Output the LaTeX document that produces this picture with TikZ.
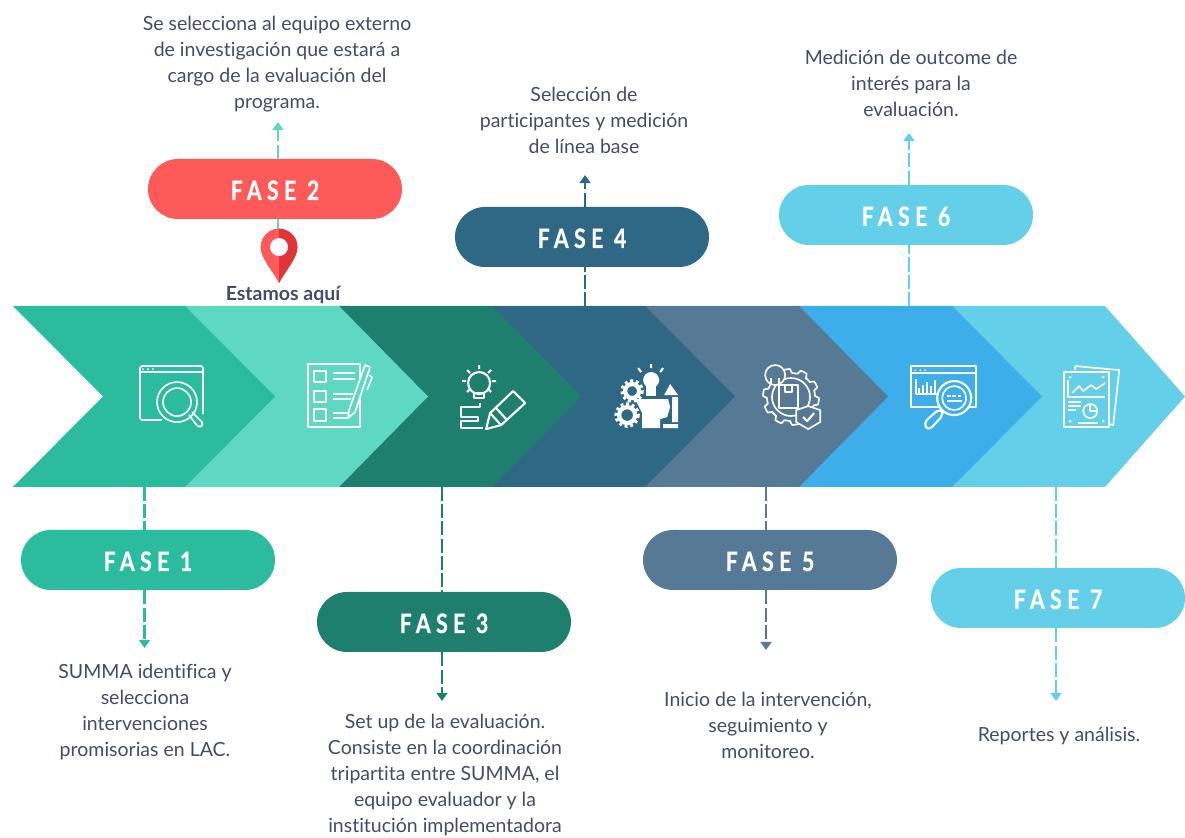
\documentclass[tikz,border=0pt]{standalone}
\usepackage{fontspec}
\setmainfont[Ligatures=NoCommon]{Lato}
\newfontfamily\fasefont[LetterSpace=20,FakeStretch=.8,FakeBold=0.6]{Lato}
\usepackage{tikz}
\usetikzlibrary{arrows.meta}
\usetikzlibrary{positioning}
\definecolor{verde}{HTML}{2BBB9E}
\definecolor{menta}{HTML}{5FD8C3}
\definecolor{pino}{HTML}{1F7F6E}
\definecolor{petroleo}{HTML}{2F6885}
\definecolor{acero}{HTML}{567996}
\definecolor{azul}{HTML}{3DAEEA}
\definecolor{cielo}{HTML}{64CFE8}
\definecolor{rojo}{HTML}{FF5A5A}
\definecolor{rojoOscuro}{HTML}{E03535}
\definecolor{tinta}{HTML}{454A6B}
\tikzstyle{pill} = [rectangle, rounded corners=0.6cm, minimum width=5.08cm, minimum height=1.2cm, text=white, text height=12.6pt, font=\fasefont\bfseries\fontsize{15.2}{17}\selectfont]
\tikzstyle{note} = [align=center, text=tinta, font=\fontsize{11.1}{14.75}\selectfont]
\tikzstyle{link} = [line width=1.5pt, dash pattern=on 8pt off 1.8pt]
\tikzstyle{arrow} = [link, ->, >={Triangle[length=4.6pt,width=6.2pt]}]
\tikzstyle{icon} = [white, line width=0.95pt, line join=round]
\tikzstyle{iconBold} = [white, line width=1.2pt, line join=round]
\begin{document}
\begin{tikzpicture}[node distance=2.5 cm]
    \useasboundingbox (0,0) rectangle (23.7,16.74);
    % band
    \fill [cielo] (19.04,10.62) -- (22.1,10.62) -- (23.7,8.81) -- (22.1,7) -- (19.04,7) -- cycle;
    \fill [azul] (15.98,10.62) -- (19.04,10.62) -- (20.84,8.81) -- (19.04,7) -- (15.98,7) -- cycle;
    \fill [acero] (12.9,10.62) -- (15.98,10.62) -- (17.76,8.81) -- (15.98,7) -- (12.9,7) -- cycle;
    \fill [petroleo] (9.84,10.62) -- (12.9,10.62) -- (14.7,8.81) -- (12.9,7) -- (9.84,7) -- cycle;
    \fill [pino] (6.78,10.62) -- (9.84,10.62) -- (11.62,8.81) -- (9.84,7) -- (6.78,7) -- cycle;
    \fill [menta] (3.7,10.62) -- (6.78,10.62) -- (8.56,8.81) -- (6.78,7) -- (3.7,7) -- cycle;
    \fill [verde] (0.26,10.62) -- (3.7,10.62) -- (5.5,8.81) -- (3.7,7) -- (0.26,7) -- (2.06,8.81) -- cycle;

    % phases
    \node (f1) [pill, fill=verde] at (2.96,5.54) {FASE 1};
    \node (f2) [pill, fill=rojo] at (5.5,12.96) {FASE 2};
    \node (f3) [pill, fill=pino] at (8.88,4.3) {FASE 3};
    \node (f4) [pill, fill=petroleo] at (11.64,12) {FASE 4};
    \node (f5) [pill, fill=acero] at (15.4,5.54) {FASE 5};
    \node (f6) [pill, fill=cielo] at (18.12,12.44) {FASE 6};
    \node (f7) [pill, fill=cielo] at (21.16,4.78) {FASE 7};

    % notes
    \node (t1) [note, below of = f1, xshift=-0.06 cm, yshift=-0.54 cm] {SUMMA identifica y\\selecciona\\intervenciones\\promisorias en LAC.};
    \node (t2) [note, above of = f2, xshift=0.04 cm] {Se selecciona al equipo externo\\de investigación que estará a\\cargo de la evaluación del\\programa.};
    \node (t3) [note, below of = f3, xshift=0.02 cm, yshift=-0.56 cm] {Set up de la evaluación.\\Consiste en la coordinación\\tripartita entre SUMMA, el\\equipo evaluador y la\\institución implementadora};
    \node (t4) [note, above of = f4, xshift=0.04 cm, yshift=-0.16 cm] {Selección de\\participantes y medición\\de línea base};
    \node (t5) [note, below of = f5, xshift=-0.04 cm, yshift=-0.8 cm] {Inicio de la intervención,\\seguimiento y\\monitoreo.};
    \node (t6) [note, above of = f6, xshift=0.1 cm, yshift=0.14 cm] {Medición de outcome de\\interés para la\\evaluación.};
    \node (t7) [note, below of = f7, xshift=0.02 cm, yshift=-0.26 cm] {Reportes y análisis.};

    % connectors
    \coordinate (c1a) at (2.89,7);
    \coordinate (c1b) at (2.89,3.78);
    \coordinate (c2a) at (5.56,11.6);
    \coordinate (c2b) at (5.56,14.3);
    \coordinate (c3a) at (8.84,7);
    \coordinate (c3b) at (8.84,2.72);
    \coordinate (c4a) at (11.7,10.62);
    \coordinate (c4b) at (11.7,13.24);
    \coordinate (c5a) at (15.32,7);
    \coordinate (c5b) at (15.32,3.74);
    \coordinate (c6a) at (18.18,10.62);
    \coordinate (c6b) at (18.18,14.08);
    \coordinate (c7a) at (21.12,7);
    \coordinate (c7b) at (21.12,2.72);
    \draw [link, verde] (c1a) -- (c1a |- f1.north);
    \draw [arrow, verde] (c1a |- f1.south) -- (c1b);
    \draw [menta, line width=1.5pt] (c2a) -- (c2a |- f2.south);
    \draw [arrow, menta] (c2a |- f2.north) -- (c2b);
    \draw [link, pino] (c3a) -- (c3a |- f3.north);
    \draw [arrow, pino] (c3a |- f3.south) -- (c3b);
    \draw [link, petroleo] (c4a) -- (c4a |- f4.south);
    \draw [arrow, petroleo] (c4a |- f4.north) -- (c4b);
    \draw [link, acero] (c5a) -- (c5a |- f5.north);
    \draw [arrow, acero] (c5a |- f5.south) -- (c5b);
    \draw [link, cielo] (c6a) -- (c6a |- f6.south);
    \draw [arrow, cielo] (c6a |- f6.north) -- (c6b);
    \draw [link, cielo] (c7a) -- (c7a |- f7.north);
    \draw [arrow, cielo] (c7a |- f7.south) -- (c7b);

    % pin and icons, measured in pixels
    \begin{scope}[x=0.02cm, y=-0.02cm, yshift=16.74cm]
        \fill [rojo] (279,283) .. controls (272,270) and (260.5,258) .. (260.5,247) .. controls (260.5,236) and (270,228.5) .. (279,228.5) -- cycle;
        \fill [rojoOscuro] (279,283) .. controls (286,270) and (297.5,258) .. (297.5,247) .. controls (297.5,236) and (288,228.5) .. (279,228.5) -- cycle;
        \fill [white] (279,247) circle (9);
        \node (aqui) [text=tinta, font=\bfseries\fontsize{11.1}{13}\selectfont] at (283,295) {Estamos aquí};

        % icon 1
        \draw [icon, rounded corners=1pt] (162,420) -- (140,420) -- (140,366) -- (203,366) -- (203,414);
        \draw [icon] (140,372) -- (203,372);
        \fill [white] (143,369) circle (1) (148,369) circle (1) (153,369) circle (1);
        \draw [icon] (177,402) circle (20) (177,402) circle (14);
        \draw [icon, rounded corners=2pt] (189,415) -- (199,428) -- (204,424) -- (192,412);

        % icon 2
        \draw [iconBold] (308,364) rectangle (360,427);
        \draw [icon] (314,371) rectangle (326,382) (314,391) rectangle (326,402) (314,409) rectangle (326,421);
        \draw [icon] (333,373) -- (355,373) (333,379) -- (355,379) (333,394) -- (353,394) (333,399) -- (351,399) (333,413) -- (349,413) (333,418) -- (347,418);
        \draw [icon, fill=menta] (348,418) -- (349,410) -- (365,365) -- (370,367) -- (355,412) -- cycle;
        \draw [icon] (369,375) -- (372,377) -- (367,390);

        % icon 3
        \draw [iconBold] (479,383) circle (11);
        \draw [iconBold] (474,393) rectangle (484,398);
        \draw [iconBold] (479,365) -- (479,369) (462,381) -- (466,381) (492,381) -- (496,381) (467,370) -- (470,373) (491,370) -- (488,373) (467,392) -- (470,389) (491,392) -- (488,389);
        \draw [iconBold] (480,403) -- (480,407) -- (461,407) -- (461,417) -- (478,417) -- (478,421) -- (461,421) -- (461,428) -- (483,428);
        \draw [iconBold] (486,429) -- (490,413) -- (513,391) -- (525,403) -- (501,425) -- cycle;
        \draw [iconBold] (490,413) -- (501,425) (496,408) -- (506,419);

        % icon 4
        \draw [white, line width=2pt, dash pattern=on 1.6pt off 1.6pt] (632,391) circle (10);
        \draw [white, line width=2.4pt] (632,391) circle (7);
        \draw [white, line width=2pt, dash pattern=on 1.6pt off 1.6pt] (627,415) circle (11);
        \draw [white, line width=2.4pt] (627,415) circle (8);
        \fill [white] (651,380) circle (8);
        \fill [white] (646,386) rectangle (656,396);
        \fill [white] (635,399) -- (668,399) -- (670,407) -- (667,417) -- (660,419) -- (660,428) -- (642,428) -- (642,413) -- cycle;
        \fill [white] (663,428) rectangle (678,424) (670,384) -- (664,395) -- (678,395) -- cycle (672,397) rectangle (678,422);
        \draw [iconBold] (651,364) -- (651,368) (638,368) -- (641,372) (663,368) -- (660,372);

        % icon 5
        \begin{scope}[xshift=15.82cm, yshift=-7.94cm]
            \draw [icon] plot [domain=0:360, samples=161] (\x:{26+2*sign(sin(10*\x))});
            \draw [icon] (0,0) circle (19);
        \end{scope}
        \draw [icon, fill=acero] (775,375) circle (10);
        \draw [icon] (771,385) -- (771,378) (779,385) -- (779,378);
        \draw [icon, fill=acero] (779,385) rectangle (798,408);
        \draw [icon] (785,385) -- (785,392) -- (792,392) -- (792,385);
        \draw [icon, fill=acero] (808,406) -- (820,410) -- (820,422) -- (808,429) -- (796,422) -- (796,410) -- cycle;
        \draw [iconBold] (803,417) -- (807,421) -- (814,413);

        % icon 6
        \draw [iconBold] (911,366) rectangle (976,407);
        \draw [iconBold] (911,373) -- (976,373);
        \fill [white] (915,370) circle (1) (920,370) circle (1) (925,370) circle (1);
        \draw [icon] (916,379) -- (916,394) -- (937,394);
        \draw [icon] (919,394) -- (919,388) (923,394) -- (923,385) (927,394) -- (927,382) (931,394) -- (931,386) (935,394) -- (935,380);
        \draw [iconBold, fill=azul] (954,398) circle (17);
        \draw [icon] (954,398) circle (12);
        \draw [icon, dash pattern=on 2pt off 1pt] (947,396) -- (962,396);
        \draw [icon] (947,401) -- (962,401);
        \draw [iconBold, rounded corners=3pt] (940,408) -- (923,423) -- (928,431) -- (944,414) -- cycle;

        % icon 7
        \draw [icon] (1075,370) -- (1075,366) -- (1119,370) -- (1113,425) -- (1109,424);
        \draw [iconBold] (1064,372) rectangle (1109,427);
        \fill [white] (1070,377) circle (1.5) (1103,377) circle (1.5) (1070,421) circle (1.5) (1103,421) circle (1.5);
        \draw [icon] (1068,380) -- (1068,397) -- (1105,397);
        \draw [icon] (1072,393) -- (1079,386) -- (1083,391) -- (1091,385) -- (1096,389) -- (1105,383);
        \draw [icon] (1068,402) -- (1081,402) (1068,406) -- (1081,406) (1068,410) -- (1076,410);
        \draw [icon] (1090,411) circle (7);
        \draw [icon] (1090,404) -- (1090,411) -- (1097,411);
        \draw [icon] (1078,423) -- (1098,423);
    \end{scope}
\end{tikzpicture}
\end{document}
